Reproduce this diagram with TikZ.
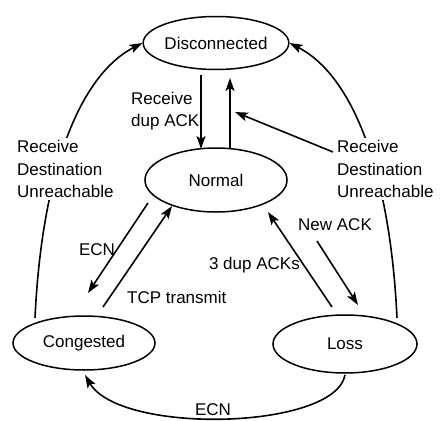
\documentclass[tikz,border=0pt]{standalone}
\usepackage{fontspec}
\setmainfont{Liberation Sans}
\usetikzlibrary{shapes.geometric,arrows.meta,calc}
\begin{document}
\begin{tikzpicture}[x=1pt,y=-1pt,
  state/.style={draw,ellipse,line width=1.5pt,inner sep=0pt},
  lbl/.style={inner sep=1pt},
  wlbl/.style={inner sep=2pt,fill=white},
  conn/.style={line width=1.6pt,-{Stealth[length=13pt,width=9pt,inset=3pt]}},
  every node/.style={font=\fontsize{17}{22.5}\selectfont}]
\fill[white] (0,0) rectangle (440,421);
\useasboundingbox (0,0) rectangle (440,421);
% states
\node[state,minimum width=142pt,minimum height=53pt] (D) at (216,43) {Disconnected};
\node[state,minimum width=142pt,minimum height=64pt] (N) at (216,180) {Normal};
\node[state,minimum width=142pt,minimum height=54pt] (C) at (84,343) {Congested};
\node[state,minimum width=144pt,minimum height=58pt] (L) at (345,344) {Loss};
% coordinates for free ends
\coordinate (dn1) at (201,75);  \coordinate (dn2) at (201,149);
\coordinate (up1) at (230,149); \coordinate (up2) at (230,78);
\coordinate (nc1) at (148,203); \coordinate (nc2) at (88,293);
\coordinate (cn1) at (103,307); \coordinate (cn2) at (172,206);
\coordinate (ln1) at (332,307); \coordinate (ln2) at (268,212);
\coordinate (nl1) at (317,241); \coordinate (nl2) at (358,305);
\coordinate (rd1) at (333,152); \coordinate (rd2) at (235,112);
\coordinate (cs) at (35,318);   \coordinate (ls) at (397,318);
\coordinate (lb) at (345,375);  \coordinate (cb) at (85,375);
% connectors
\draw[conn] (dn1) -- (dn2);
\draw[conn] (up1) -- (up2);
\draw[conn] (nc1) -- (nc2);
\draw[conn] (cn1) -- (cn2);
\draw[conn] (ln1) -- (ln2);
\draw[conn] (nl1) -- (nl2);
\draw[conn] (rd1) -- (rd2);
\draw[conn] (cs) .. controls (42,170) and (80,75) .. (D.west);
\draw[conn] (ls) .. controls (390,170) and (352,75) .. (D.east);
\draw[conn] (lb) .. controls (335,430) and (120,435) .. (cb);
% labels
\node[lbl,anchor=west,align=left] (l1) at (130,111) {Receive\\dup ACK};
\node[wlbl,anchor=west,align=left] (l2) at (15,169) {Receive\\Destination\\Unreachable};
\node[wlbl,anchor=west,align=left] (l3) at (335,169) {Receive\\Destination\\Unreachable};
\node[lbl] (l4) at (97,250) {ECN};
\node[lbl,anchor=west] (l5) at (126,297) {TCP transmit};
\node[lbl,anchor=east] (l6) at (301,265) {3 dup ACKs};
\node[lbl,anchor=west] (l7) at (297,225) {New ACK};
\node[wlbl,inner sep=1pt] (l8) at (213,410) {ECN};
\end{tikzpicture}
\end{document}
